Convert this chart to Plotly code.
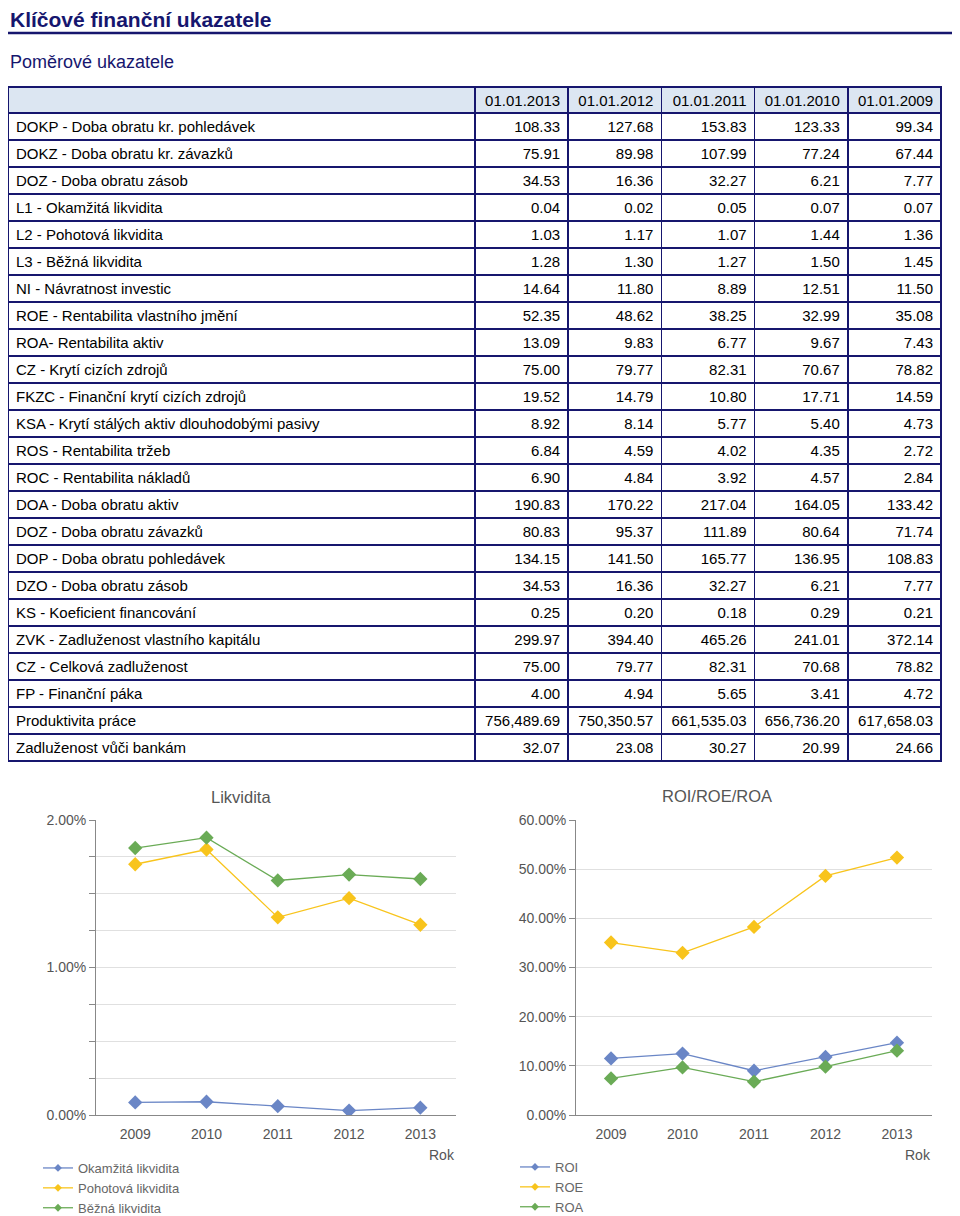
import plotly.graph_objects as go

# --- table data ---
dates = ["01.01.2013", "01.01.2012", "01.01.2011", "01.01.2010", "01.01.2009"]
indicators = [
    "DOKP - Doba obratu kr. pohledávek",
    "DOKZ - Doba obratu kr. závazků",
    "DOZ - Doba obratu zásob",
    "L1 - Okamžitá likvidita",
    "L2 - Pohotová likvidita",
    "L3 - Běžná likvidita",
    "NI - Návratnost investic",
    "ROE - Rentabilita vlastního jmění",
    "ROA- Rentabilita aktiv",
    "CZ - Krytí cizích zdrojů",
    "FKZC - Finanční krytí cizích zdrojů",
    "KSA - Krytí stálých aktiv dlouhodobými pasivy",
    "ROS - Rentabilita tržeb",
    "ROC - Rentabilita nákladů",
    "DOA - Doba obratu aktiv",
    "DOZ - Doba obratu závazků",
    "DOP - Doba obratu pohledávek",
    "DZO - Doba obratu zásob",
    "KS - Koeficient financování",
    "ZVK - Zadluženost vlastního kapitálu",
    "CZ - Celková zadluženost",
    "FP - Finanční páka",
    "Produktivita práce",
    "Zadluženost vůči bankám",
]
v2013 = [108.33, 75.91, 34.53, 0.04, 1.03, 1.28, 14.64, 52.35, 13.09, 75.00, 19.52, 8.92,
         6.84, 6.90, 190.83, 80.83, 134.15, 34.53, 0.25, 299.97, 75.00, 4.00, 756489.69, 32.07]
v2012 = [127.68, 89.98, 16.36, 0.02, 1.17, 1.30, 11.80, 48.62, 9.83, 79.77, 14.79, 8.14,
         4.59, 4.84, 170.22, 95.37, 141.50, 16.36, 0.20, 394.40, 79.77, 4.94, 750350.57, 23.08]
v2011 = [153.83, 107.99, 32.27, 0.05, 1.07, 1.27, 8.89, 38.25, 6.77, 82.31, 10.80, 5.77,
         4.02, 3.92, 217.04, 111.89, 165.77, 32.27, 0.18, 465.26, 82.31, 5.65, 661535.03, 30.27]
v2010 = [123.33, 77.24, 6.21, 0.07, 1.44, 1.50, 12.51, 32.99, 9.67, 70.67, 17.71, 5.40,
         4.35, 4.57, 164.05, 80.64, 136.95, 6.21, 0.29, 241.01, 70.68, 3.41, 656736.20, 20.99]
v2009 = [99.34, 67.44, 7.77, 0.07, 1.36, 1.45, 11.50, 35.08, 7.43, 78.82, 14.59, 4.73,
         2.72, 2.84, 133.42, 71.74, 108.83, 7.77, 0.21, 372.14, 78.82, 4.72, 617658.03, 24.66]

# --- chart data (as plotted) ---
years = ["2009", "2010", "2011", "2012", "2013"]
okamzita = [0.085, 0.09, 0.06, 0.03, 0.05]
pohotova = [1.70, 1.80, 1.34, 1.47, 1.29]
bezna = [1.81, 1.88, 1.59, 1.63, 1.60]
roi = [11.5, 12.5, 9.0, 11.8, 14.7]
roe = [35.08, 32.99, 38.25, 48.62, 52.35]
roa = [7.43, 9.67, 6.77, 9.83, 13.09]

# page has an 8px body margin; figure starts at (8, 8) and runs to the window edge
W, H = 952, 1208
OFF = 8
NAVY = "#16166e"
GREY = "#555555"
BLUE = "#6a86c6"
YELLOW = "#f8c41c"
GREEN = "#6aab56"
FONT = "Arial, Liberation Sans, sans-serif"


def px(x):
    return max(x - OFF, 0) / W


def py(y):
    return 1 - (y - OFF) / H


fig = go.Figure()

fig.add_trace(go.Table(
    domain=dict(x=[px(4), px(941)], y=[py(790), py(87)]),
    columnwidth=[469, 93.6, 93.6, 93.6, 93.6, 93.6],
    header=dict(
        values=[""] + dates,
        fill_color="#dce6f2",
        line=dict(color=NAVY, width=1.5),
        align=["left", "right"],
        font=dict(family=FONT, size=15, color="black"),
        height=26,
    ),
    cells=dict(
        values=[indicators, v2013, v2012, v2011, v2010, v2009],
        format=[None, ",.2f", ",.2f", ",.2f", ",.2f", ",.2f"],
        fill_color="white",
        line=dict(color=NAVY, width=1.5),
        align=["left", "right"],
        font=dict(family=FONT, size=15, color="black"),
        height=27,
    ),
))


def add_series(name, vals, col, xa, ya, lg):
    fig.add_trace(go.Scatter(
        x=years, y=vals, name=name, mode="lines+markers", showlegend=False,
        line=dict(color=col, width=1.3),
        marker=dict(symbol="diamond", size=11, color=col),
        xaxis=xa, yaxis=ya,
    ))
    # small legend swatch like the original
    fig.add_trace(go.Scatter(
        x=[None], y=[None], name=name, mode="lines+markers",
        line=dict(color=col, width=1.3),
        marker=dict(symbol="diamond", size=6, color=col),
        xaxis=xa, yaxis=ya, legend=lg,
    ))


for name, vals, col in [("Okamžitá likvidita", okamzita, BLUE),
                        ("Pohotová likvidita", pohotova, YELLOW),
                        ("Běžná likvidita", bezna, GREEN)]:
    add_series(name, vals, col, "x", "y", "legend")

for name, vals, col in [("ROI", roi, BLUE), ("ROE", roe, YELLOW), ("ROA", roa, GREEN)]:
    add_series(name, vals, col, "x2", "y2", "legend2")

xax = dict(type="category", showline=True, linecolor="#888888", linewidth=1,
           showgrid=False, ticks="", zeroline=False, automargin=False,
           ticklabelstandoff=6,
           tickfont=dict(family=FONT, size=14, color=GREY))
yax = dict(showline=True, linecolor="#888888", linewidth=1, ticks="outside",
           ticklen=6, tickcolor="#888888", gridcolor="#e0e0e0", zeroline=False,
           tickformat=".2f", ticksuffix="%", automargin=False,
           tickfont=dict(family=FONT, size=14, color=GREY))

leg = dict(font=dict(family=FONT, size=13, color="#666666"), bgcolor="rgba(0,0,0,0)",
           yanchor="top", xanchor="left", tracegroupgap=0)

fig.update_layout(
    width=W, height=H,
    margin=dict(l=0, r=0, t=0, b=0, autoexpand=False),
    paper_bgcolor="white", plot_bgcolor="white",
    showlegend=True,
    xaxis=dict(xax, domain=[px(96), px(456)], range=[-0.55, 4.5], anchor="y"),
    yaxis=dict(yax, domain=[py(1115), py(820)], range=[0, 2], dtick=1,
               minor=dict(dtick=0.25, showgrid=True, gridcolor="#e0e0e0",
                          ticks="outside", ticklen=6, tickcolor="#888888"),
               anchor="x"),
    xaxis2=dict(xax, domain=[px(576), px(932)], range=[-0.49, 4.49], anchor="y2"),
    yaxis2=dict(yax, domain=[py(1115), py(820)], range=[0, 60], dtick=10, anchor="x2"),
    legend=dict(leg, x=px(38), y=py(1153)),
    legend2=dict(leg, x=px(515), y=py(1152)),
    shapes=[dict(type="line", xref="paper", yref="paper", x0=px(5), x1=px(955),
                 y0=py(33), y1=py(33), line=dict(color=NAVY, width=2.5))],
    annotations=[
        dict(text="<b>Klíčové finanční ukazatele</b>", x=px(5), y=py(19.5), xref="paper", yref="paper",
             xanchor="left", yanchor="middle", showarrow=False,
             font=dict(family=FONT, size=21, color=NAVY)),
        dict(text="Poměrové ukazatele", x=px(5), y=py(62), xref="paper", yref="paper",
             xanchor="left", yanchor="middle", showarrow=False,
             font=dict(family=FONT, size=18, color=NAVY)),
        dict(text="Likvidita", x=px(241), y=py(797), xref="paper", yref="paper",
             xanchor="center", yanchor="middle", showarrow=False,
             font=dict(family=FONT, size=16.5, color=GREY)),
        dict(text="ROI/ROE/ROA", x=px(717), y=py(796), xref="paper", yref="paper",
             xanchor="center", yanchor="middle", showarrow=False,
             font=dict(family=FONT, size=16.5, color=GREY)),
        dict(text="Rok", x=px(457), y=py(1155), xref="paper", yref="paper",
             xanchor="right", yanchor="middle", showarrow=False,
             font=dict(family=FONT, size=14, color=GREY)),
        dict(text="Rok", x=px(933), y=py(1155), xref="paper", yref="paper",
             xanchor="right", yanchor="middle", showarrow=False,
             font=dict(family=FONT, size=14, color=GREY)),
    ],
)

fig.write_html("out.html")
